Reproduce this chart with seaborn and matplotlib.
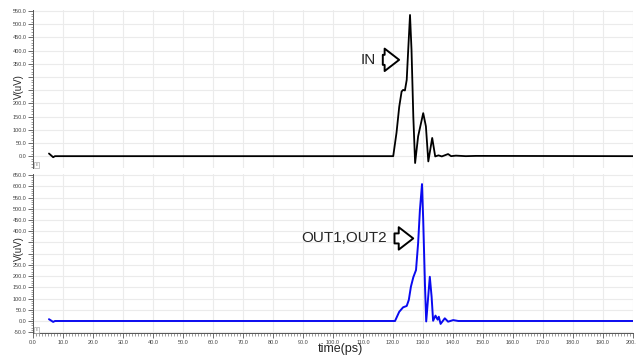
import matplotlib
matplotlib.use("Agg")
import matplotlib.pyplot as plt
import seaborn as sns
import pandas as pd
from matplotlib.ticker import MultipleLocator, FormatStrFormatter, FuncFormatter

# IN waveform (time in ps, V in uV)
in_time = [5.3, 6.7, 7.3, 120.1, 121.2, 122.1, 122.9, 123.4, 124.0, 124.6, 125.1, 125.7,
           126.2, 126.8, 127.4, 128.4, 130.1, 131.0, 131.8, 133.1, 134.1, 135.2, 136.3,
           138.4, 139.4, 141.0, 144.3, 147.7, 200.0]
in_volt = [10, -4, 0, 0, 89, 187, 245, 251, 249, 289, 403, 535,
           403, 150, -26, 75, 163, 113, -20, 69, -1, 3, -1,
           8, 0, 2, 0, 1, 0]

# OUT1 / OUT2 waveform
out_time = [5.3, 6.7, 7.3, 120.7, 122.1, 123.4, 124.6, 125.3, 126.0, 126.8, 127.7, 128.4,
            129.0, 129.7, 130.1, 130.7, 131.1, 132.3, 132.9, 133.4, 134.2, 134.9, 135.3,
            135.9, 137.3, 138.4, 140.1, 141.8, 200.0]
out_volt = [8, -4, 0, 0, 41, 61, 67, 94, 153, 195, 227, 346,
            494, 610, 450, 153, -2, 197, 108, 1, 24, 6, 19,
            -13, 12, -3, 4, 0, 0]

# y tick labels hidden behind the axis title
in_hidden = [250, 300]
out_hidden = [300, 350]

df_in = pd.DataFrame({"time": in_time, "V": in_volt})
df_out = pd.DataFrame({"time": out_time, "V": out_volt})

sns.set_style("white")
plt.rcParams["font.family"] = ["Liberation Sans", "DejaVu Sans"]

fig = plt.figure(figsize=(6.36, 3.56), dpi=100)
ax1 = fig.add_axes([0.052, 0.528, 0.943, 0.444])
ax2 = fig.add_axes([0.052, 0.0646, 0.943, 0.4466])

sns.lineplot(data=df_in, x="time", y="V", ax=ax1, color="black", lw=1.3, estimator=None)
sns.lineplot(data=df_out, x="time", y="V", ax=ax2, color="#0a0af0", lw=1.4, estimator=None)

ax1.set_ylim(-45, 554)
ax2.set_ylim(-53.5, 655)


def yfmt(hidden):
    return FuncFormatter(lambda v, p: "" if round(v) in hidden else "%.1f" % v)


for ax, hidden in ((ax1, in_hidden), (ax2, out_hidden)):
    ax.set_xlim(0, 200)
    ax.xaxis.set_major_locator(MultipleLocator(10))
    ax.xaxis.set_minor_locator(MultipleLocator(1))
    ax.yaxis.set_major_locator(MultipleLocator(50))
    ax.yaxis.set_minor_locator(MultipleLocator(10))
    ax.xaxis.set_major_formatter(FormatStrFormatter("%.1f"))
    ax.yaxis.set_major_formatter(yfmt(hidden))
    ax.grid(True, which="major", color="#ebebeb", lw=0.8)
    ax.tick_params(which="major", direction="out", length=3.5, width=0.6, labelsize=4,
                   color="#555555", labelcolor="#444444", pad=1.2, left=True, bottom=True)
    ax.tick_params(which="minor", direction="out", length=1.8, width=0.5, color="#777777",
                   left=True, bottom=True)
    for s in ("top", "right"):
        ax.spines[s].set_visible(False)
    ax.spines["left"].set_color("#555555")
    ax.spines["left"].set_linewidth(0.7)
    ax.set_ylabel("V(uV)", fontsize=7)
    ax.text(0.004, 0.012, "E", transform=ax.transAxes, fontsize=2.5, color="#777777",
            bbox=dict(boxstyle="square,pad=0.3", fc="white", ec="#999999", lw=0.4))

ax1.yaxis.set_label_coords(-0.016, 0.516)
ax2.yaxis.set_label_coords(-0.016, 0.53)

ax1.spines["bottom"].set_visible(False)
ax1.tick_params(axis="x", which="both", bottom=False, labelbottom=False)
ax1.set_xlabel("")
ax2.spines["bottom"].set_color("#555555")
ax2.spines["bottom"].set_linewidth(0.7)
ax2.set_xlabel("time(ps)", fontsize=9)
ax2.xaxis.set_label_coords(0.513, -0.065)

arrow_style = dict(arrowstyle="simple,head_length=0.55,head_width=0.85,tail_width=0.38",
                   mutation_scale=19, fc="white", ec="black", lw=1.4)

ax1.annotate("", xy=(123.0, 365), xytext=(115.7, 365), arrowprops=arrow_style)
ax1.text(114.3, 365, "IN", fontsize=11, ha="right", va="center")

ax2.annotate("", xy=(127.7, 368), xytext=(119.6, 368), arrowprops=arrow_style)
ax2.text(118.0, 368, "OUT1,OUT2", fontsize=11, ha="right", va="center")

fig.savefig("out.png", dpi=100)
